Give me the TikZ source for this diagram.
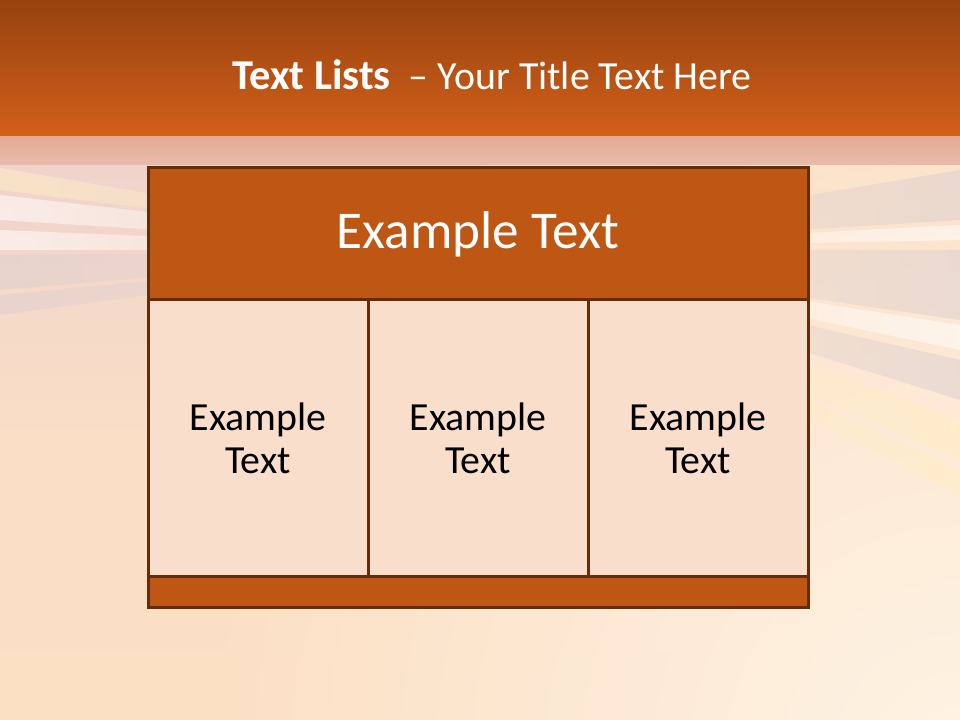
\documentclass[tikz,border=0pt]{standalone}
\usepackage{fontspec}
\setmainfont{Carlito}
\usepackage{tikz}
\usetikzlibrary{
	positioning,
	fadings
}
\definecolor{BannerDark}{RGB}{151,66,15}
\definecolor{BannerLight}{RGB}{210,96,26}
\definecolor{BandPink}{RGB}{228,170,150}
\definecolor{Rust}{RGB}{190,87,20}
\definecolor{DarkBrown}{RGB}{100,45,10}
\definecolor{CellPink}{RGB}{249,222,204}
\definecolor{PeachTop}{RGB}{240,212,204}
\definecolor{PeachMid}{RGB}{250,222,198}
\definecolor{PeachLow}{RGB}{252,224,196}
\definecolor{Cream}{RGB}{255,245,232}
\definecolor{StreakGray}{RGB}{222,208,208}
\definecolor{StreakYellow}{RGB}{255,238,196}

\tikzset{
	hdr/.style={draw=DarkBrown, line width=2.25bp, fill=Rust, text=white,
		minimum width=495bp, minimum height=99bp, inner sep=0pt, outer sep=0pt,
		anchor=north west, font=\fontsize{40}{48}\selectfont},
	cell/.style={draw=DarkBrown, line width=2.25bp, fill=CellPink, text=black,
		minimum width=165bp, minimum height=207.75bp, inner sep=0pt, outer sep=0pt,
		anchor=north west, align=center, font=\fontsize{30}{32.25}\selectfont},
	bar/.style={draw=DarkBrown, line width=2.25bp, fill=Rust,
		minimum width=495bp, minimum height=23.25bp, inner sep=0pt, outer sep=0pt,
		anchor=north west},
	streakL/.style={fill=#1, opacity=0.55, path fading=east},
	streakR/.style={fill=#1, opacity=0.55, path fading=west}
}

\begin{document}
\begin{tikzpicture}[x=0.75bp, y=0.75bp]
		\useasboundingbox (0,0) rectangle (960,720);
		
		% fond
		\begin{scope}
			\clip (0,0) rectangle (960,555);
			\shade[top color=PeachTop, bottom color=PeachLow, middle color=PeachMid] (0,0) rectangle (960,555);
			\shade[inner color=Cream, outer color=PeachLow, opacity=0.9] (960,-40) circle (760);
			
			% rayons
			\coordinate (vp) at (480,470);
			\fill[streakL=StreakYellow] (vp) -- (0,552) -- (0,530) -- cycle;
			\fill[streakL=white] (vp) -- (0,525) -- (0,500) -- cycle;
			\fill[streakL=white] (vp) -- (0,490) -- (0,470) -- cycle;
			\fill[streakL=StreakGray] (vp) -- (0,465) -- (0,430) -- cycle;
			\fill[streakL=StreakGray] (vp) -- (0,425) -- (0,405) -- cycle;
			\fill[streakR=StreakGray] (vp) -- (960,550) -- (960,500) -- cycle;
			\fill[streakR=white] (vp) -- (960,495) -- (960,480) -- cycle;
			\fill[streakR=StreakGray] (vp) -- (960,470) -- (960,400) -- cycle;
			\fill[streakR=white] (vp) -- (960,395) -- (960,370) -- cycle;
			\fill[streakR=StreakGray] (vp) -- (960,360) -- (960,320) -- cycle;
			\fill[streakR=StreakYellow] (vp) -- (960,300) -- (960,260) -- cycle;
			\fill[streakR=StreakYellow] (vp) -- (960,250) -- (960,225) -- cycle;
		\end{scope}
		
		% bandeau
		\shade[top color=BannerDark, bottom color=BannerLight] (0,583) rectangle (960,720);
		\shade[top color=BandPink, bottom color=BandPink!60!PeachTop] (0,555) rectangle (960,583);
		
		\node[text=white, font=\fontsize{30}{36}\selectfont] (title) at (492,645)
			{{\fontsize{32}{36}\selectfont\bfseries Text Lists}\ \ – Your Title Text Here};
		
		% tableau
		\node[hdr] (head) at (148,552) {Example Text};
		\node[cell] (cellA) at (148,420) {Example\\Text};
		\node[cell] (cellB) at (368,420) {Example\\Text};
		\node[cell] (cellC) at (588,420) {Example\\Text};
		\node[bar] (foot) at (148,143) {};
	\end{tikzpicture}
\end{document}
